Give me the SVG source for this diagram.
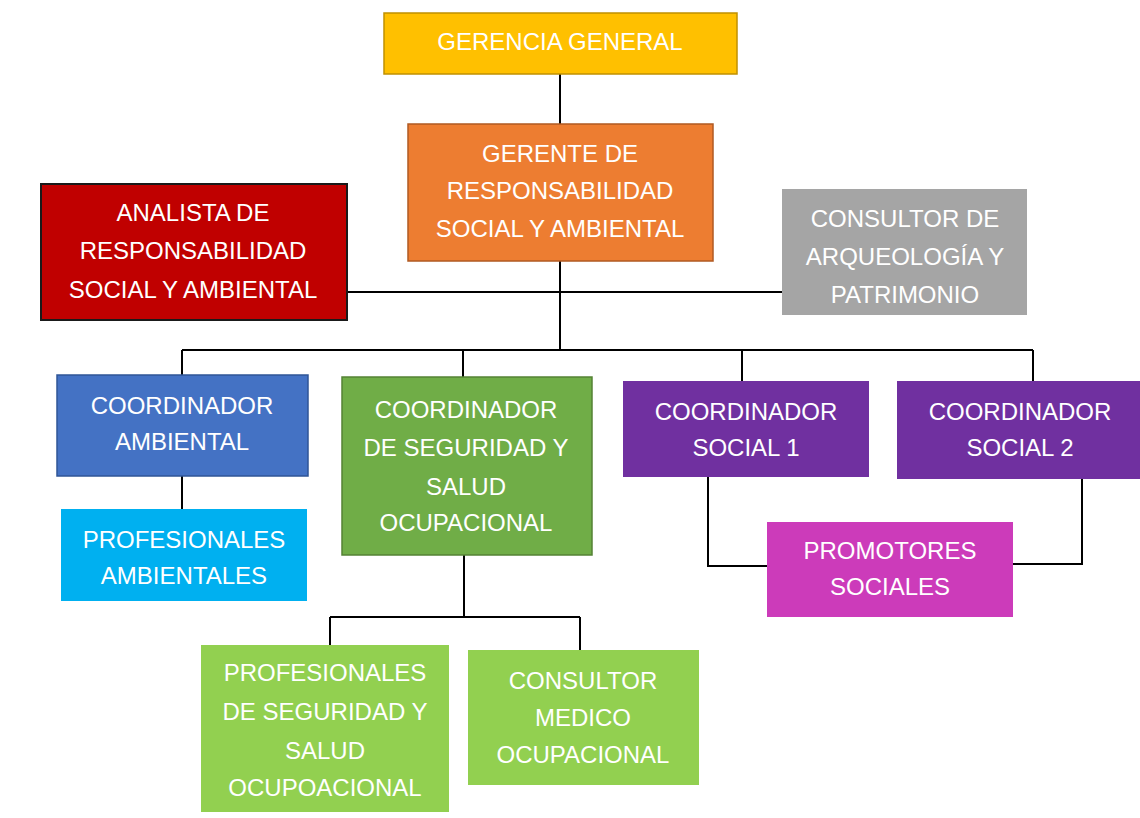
<svg xmlns="http://www.w3.org/2000/svg" width="1140" height="818" viewBox="0 0 1140 818">
<style>
.t{font-family:"Liberation Sans",Arial,sans-serif;font-size:24px;fill:#ffffff;text-anchor:middle;dominant-baseline:central}
.c{stroke:#000;stroke-width:2;fill:none}
</style>
<rect width="1140" height="818" fill="#ffffff"/>
<g id="connectors" class="c">
<path d="M560 74V124"/>
<path d="M560 261V350"/>
<path d="M347 292H782"/>
<path d="M182 350H1033"/>
<path d="M182 350V375M463 350V377M742 350V381M1033 350V381"/>
<path d="M182 476V509"/>
<path d="M464 555V617M330 617H580M330 617V645M580 617V650"/>
<path d="M708 477V566H767"/>
<path d="M1082 479V564H1013"/>
</g>
<g id="gerencia-general">
<rect x="384" y="13" width="353" height="61" fill="#FFC000" stroke="#C09000" stroke-width="1.5"/>
<text class="t" x="560" y="41">GERENCIA GENERAL</text>
</g>
<g id="gerente">
<rect x="408" y="124" width="305" height="137" fill="#ED7D31" stroke="#B05A22" stroke-width="1.5"/>
<text class="t" x="560" y="153">GERENTE DE</text>
<text class="t" x="560" y="190">RESPONSABILIDAD</text>
<text class="t" x="560" y="228">SOCIAL Y AMBIENTAL</text>
</g>
<g id="analista">
<rect x="41" y="184" width="306" height="136" fill="#C00000" stroke="#1a1a1a" stroke-width="2"/>
<text class="t" x="193" y="212">ANALISTA DE</text>
<text class="t" x="193" y="250">RESPONSABILIDAD</text>
<text class="t" x="193" y="289">SOCIAL Y AMBIENTAL</text>
</g>
<g id="consultor-arqueologia">
<rect x="782" y="189" width="245" height="126" fill="#A5A5A5"/>
<text class="t" x="905" y="218">CONSULTOR DE</text>
<text class="t" x="905" y="256">ARQUEOLOGÍA Y</text>
<text class="t" x="905" y="294">PATRIMONIO</text>
</g>
<g id="coordinador-ambiental">
<rect x="57" y="375" width="251" height="101" fill="#4472C4" stroke="#2F5597" stroke-width="1.5"/>
<text class="t" x="182" y="405">COORDINADOR</text>
<text class="t" x="182" y="441">AMBIENTAL</text>
</g>
<g id="profesionales-ambientales">
<rect x="61" y="509" width="246" height="92" fill="#00B0F0"/>
<text class="t" x="184" y="539">PROFESIONALES</text>
<text class="t" x="184" y="575">AMBIENTALES</text>
</g>
<g id="coordinador-seguridad">
<rect x="342" y="377" width="250" height="178" fill="#70AD47" stroke="#548235" stroke-width="1.5"/>
<text class="t" x="466" y="409">COORDINADOR</text>
<text class="t" x="466" y="447">DE SEGURIDAD Y</text>
<text class="t" x="466" y="486">SALUD</text>
<text class="t" x="466" y="522">OCUPACIONAL</text>
</g>
<g id="coordinador-social-1">
<rect x="623" y="381" width="246" height="96" fill="#7030A0"/>
<text class="t" x="746" y="411">COORDINADOR</text>
<text class="t" x="746" y="447">SOCIAL 1</text>
</g>
<g id="coordinador-social-2">
<rect x="897" y="381" width="243" height="98" fill="#7030A0"/>
<text class="t" x="1020" y="411">COORDINADOR</text>
<text class="t" x="1020" y="447">SOCIAL 2</text>
</g>
<g id="promotores-sociales">
<rect x="767" y="522" width="246" height="95" fill="#CC3BBA"/>
<text class="t" x="890" y="550">PROMOTORES</text>
<text class="t" x="890" y="586">SOCIALES</text>
</g>
<g id="profesionales-seguridad">
<rect x="201" y="645" width="248" height="167" fill="#92D050"/>
<text class="t" x="325" y="672">PROFESIONALES</text>
<text class="t" x="325" y="711">DE SEGURIDAD Y</text>
<text class="t" x="325" y="750">SALUD</text>
<text class="t" x="325" y="787">OCUPOACIONAL</text>
</g>
<g id="consultor-medico">
<rect x="468" y="650" width="231" height="135" fill="#92D050"/>
<text class="t" x="583" y="680">CONSULTOR</text>
<text class="t" x="583" y="717">MEDICO</text>
<text class="t" x="583" y="754">OCUPACIONAL</text>
</g>
</svg>
